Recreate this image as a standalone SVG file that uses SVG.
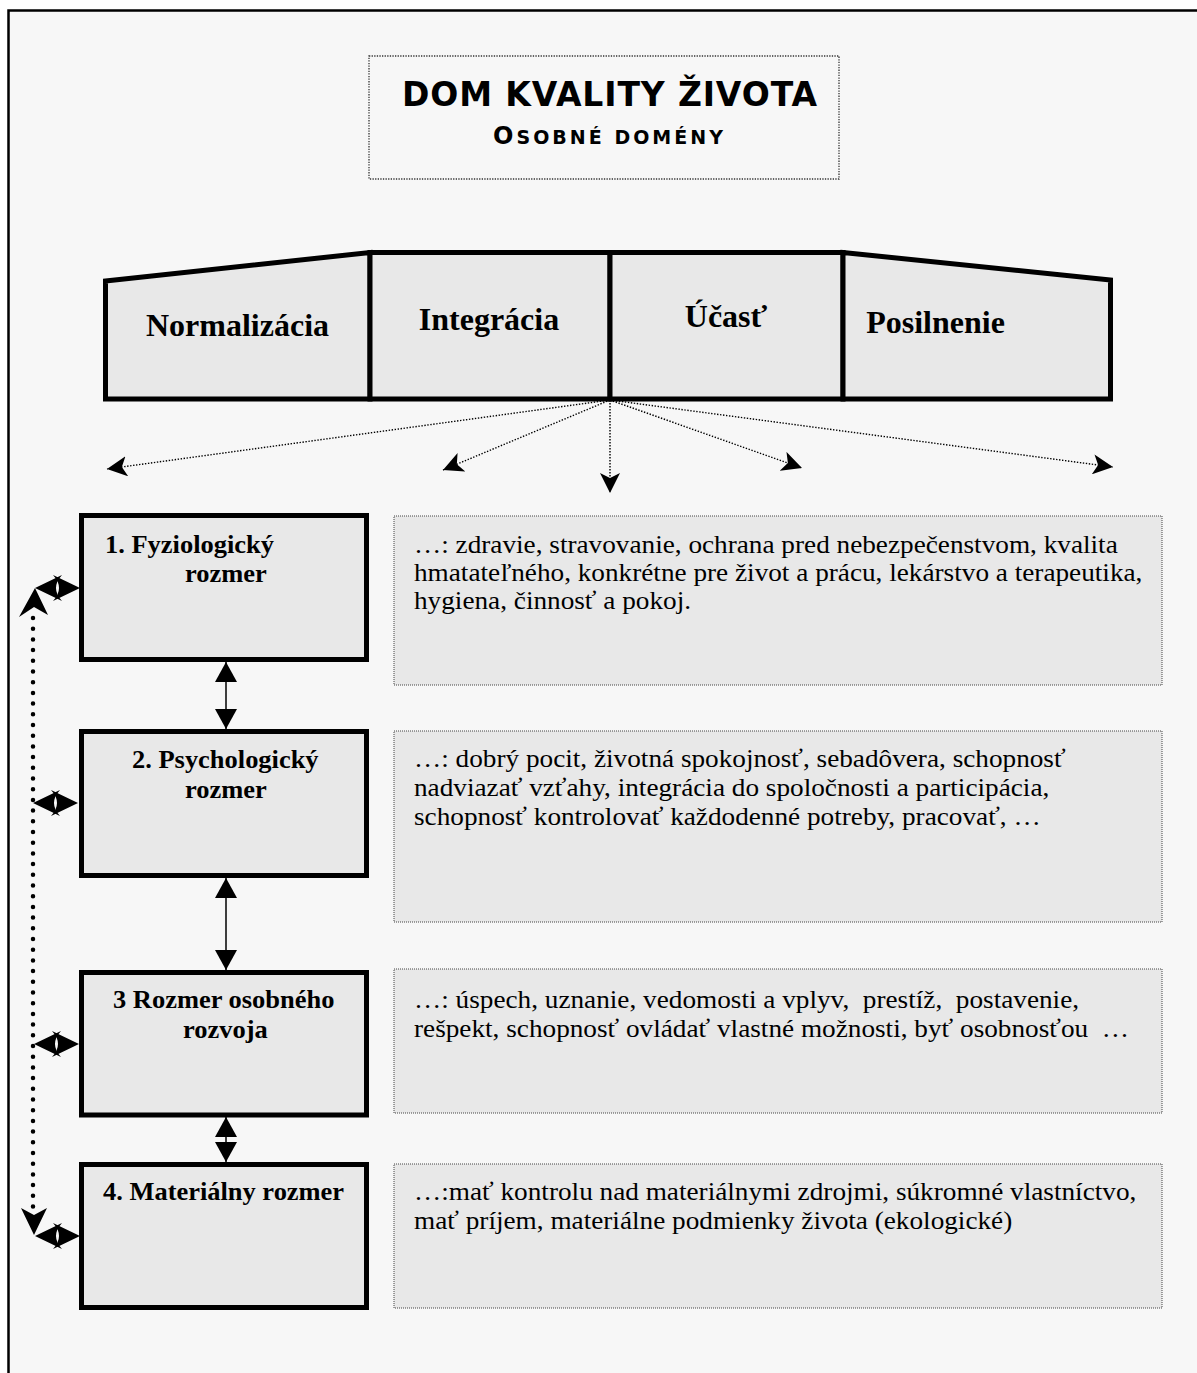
<svg xmlns="http://www.w3.org/2000/svg" xmlns:xlink="http://www.w3.org/1999/xlink" width="1197" height="1373" viewBox="0 0 1197 1373">
<style>
.frame{fill:#f7f7f7;stroke:#000;stroke-width:2.5}
.roof{fill:#e8e8e8;stroke:#000;stroke-width:5;stroke-linejoin:miter}
.box{fill:#e8e8e8;stroke:#000;stroke-width:5}
.tbox{fill:#e8e8e8;stroke:#444;stroke-width:1;stroke-dasharray:1 1}
.titlebox{fill:#f7f7f7;stroke:#333;stroke-width:1.3;stroke-dasharray:1.3 1.3}
.roofl{font-family:"Liberation Serif","Times New Roman",serif;font-weight:bold;font-size:32px;fill:#000;text-anchor:middle}
.boxl{font-family:"Liberation Serif","Times New Roman",serif;font-weight:bold;font-size:24.5px;fill:#000}
.body{font-family:"Liberation Serif","Times New Roman",serif;font-size:25px;fill:#000;white-space:pre}
.title{font-family:"DejaVu Sans","Liberation Sans",sans-serif;font-weight:bold;fill:#000;text-anchor:middle}
.dots{fill:none;stroke:#000;stroke-width:1.4;stroke-dasharray:1.4 1.6}
.solid{fill:none;stroke:#000;stroke-width:1.5}
.vdots{fill:none;stroke:#000;stroke-width:4.5;stroke-dasharray:0 10.7;stroke-linecap:round}
</style>
<defs>
<marker id="stealth" viewBox="0 0 20 20" refX="20" refY="10" markerWidth="20" markerHeight="20" markerUnits="userSpaceOnUse" orient="auto">
<path d="M0,0 L20,10 L0,20 L5,10 Z" fill="#000"/>
</marker>
<marker id="tri" viewBox="0 0 20 22" refX="20" refY="11" markerWidth="20" markerHeight="22" markerUnits="userSpaceOnUse" orient="auto-start-reverse">
<path d="M0,0 L20,11 L0,22 Z" fill="#000"/>
</marker>
<g id="dbl">
<path d="M35,0 L62,-13 Q50,0 62,13 Z" fill="#000"/>
<path d="M80,0 L53,-13 Q65,0 53,13 Z" fill="#000"/>
</g>
</defs>

<rect x="0" y="0" width="1197" height="1373" fill="#fff"/>
<path class="frame" d="M8.5,1380 V10.5 H1205 V1380 Z"/>

<g id="title">
<rect class="titlebox" x="369" y="56" width="470" height="123"/>
<text class="title" x="609.5" y="106" font-size="33" textLength="415">DOM KVALITY ŽIVOTA</text>
<text class="title" x="608" y="144" textLength="230"><tspan font-size="24">O</tspan><tspan font-size="19">SOBNÉ DOMÉNY</tspan></text>
</g>

<g id="roof-normalizacia">
<polygon class="roof" points="105.5,281 370,252.5 370,399 105.5,399"/>
<text class="roofl" x="237.5" y="336">Normalizácia</text>
</g>
<g id="roof-integracia">
<polygon class="roof" points="370,252.5 610,252.5 610,399 370,399"/>
<text class="roofl" x="489" y="330">Integrácia</text>
</g>
<g id="roof-ucast">
<polygon class="roof" points="610,252.5 843,252.5 843,399 610,399"/>
<text class="roofl" x="726" y="327">Účasť</text>
</g>
<g id="roof-posilnenie">
<polygon class="roof" points="843,252.5 1110.5,280 1110.5,399 843,399"/>
<text class="roofl" x="935.5" y="333">Posilnenie</text>
</g>

<g id="box1">
<rect class="box" x="81.5" y="515.5" width="285" height="144"/>
<g transform="translate(105,0) scale(1.08,1)"><text class="boxl" x="0" y="553">1. Fyziologický</text></g>
<g transform="translate(185,0) scale(1.08,1)"><text class="boxl" x="0" y="582">rozmer</text></g>
</g>
<g id="box2">
<rect class="box" x="81.5" y="731.5" width="285" height="144"/>
<g transform="translate(132,0) scale(1.08,1)"><text class="boxl" x="0" y="768">2. Psychologický</text></g>
<g transform="translate(185,0) scale(1.08,1)"><text class="boxl" x="0" y="798">rozmer</text></g>
</g>
<g id="box3">
<rect class="box" x="81.5" y="972.5" width="285" height="142.5"/>
<g transform="translate(113,0) scale(1.08,1)"><text class="boxl" x="0" y="1008">3 Rozmer osobného</text></g>
<g transform="translate(183,0) scale(1.08,1)"><text class="boxl" x="0" y="1038">rozvoja</text></g>
</g>
<g id="box4">
<rect class="box" x="81.5" y="1164.5" width="285" height="143"/>
<g transform="translate(103,0) scale(1.08,1)"><text class="boxl" x="0" y="1200">4. Materiálny rozmer</text></g>
</g>

<g id="text1">
<rect class="tbox" x="394" y="516" width="768" height="169"/>
<g transform="translate(414,0) scale(1.09,1)">
<text class="body" x="0" y="553">…: zdravie, stravovanie, ochrana pred nebezpečenstvom, kvalita</text>
<text class="body" x="0" y="581">hmatateľného, konkrétne pre život a prácu, lekárstvo a terapeutika,</text>
<text class="body" x="0" y="609">hygiena, činnosť a pokoj.</text>
</g>
</g>
<g id="text2">
<rect class="tbox" x="394" y="731" width="768" height="191"/>
<g transform="translate(414,0) scale(1.09,1)">
<text class="body" x="0" y="767">…: dobrý pocit, životná spokojnosť, sebadôvera, schopnosť</text>
<text class="body" x="0" y="796">nadviazať vzťahy, integrácia do spoločnosti a participácia,</text>
<text class="body" x="0" y="825">schopnosť kontrolovať každodenné potreby, pracovať, …</text>
</g>
</g>
<g id="text3">
<rect class="tbox" x="394" y="969" width="768" height="144"/>
<g transform="translate(414,0) scale(1.09,1)">
<text class="body" x="0" y="1008" xml:space="preserve">…: úspech, uznanie, vedomosti a vplyv,  prestíž,  postavenie,</text>
<text class="body" x="0" y="1037" xml:space="preserve">rešpekt, schopnosť ovládať vlastné možnosti, byť osobnosťou  …</text>
</g>
</g>
<g id="text4">
<rect class="tbox" x="394" y="1164" width="768" height="144"/>
<g transform="translate(414,0) scale(1.09,1)">
<text class="body" x="0" y="1200">…:mať kontrolu nad materiálnymi zdrojmi, súkromné vlastníctvo,</text>
<text class="body" x="0" y="1229">mať príjem, materiálne podmienky života (ekologické)</text>
</g>
</g>

<g id="connectors">
<path class="dots" d="M610,400 L107,469" marker-end="url(#stealth)"/>
<path class="dots" d="M610,400 L443,470" marker-end="url(#stealth)"/>
<path class="dots" d="M610,400 L610,493" marker-end="url(#stealth)"/>
<path class="dots" d="M610,400 L802,468" marker-end="url(#stealth)"/>
<path class="dots" d="M610,400 L1113,467" marker-end="url(#stealth)"/>

<path class="solid" d="M226,662 L226,729" marker-start="url(#tri)" marker-end="url(#tri)"/>
<path class="solid" d="M226,878 L226,970" marker-start="url(#tri)" marker-end="url(#tri)"/>
<path class="solid" d="M226,1117 L226,1162" marker-start="url(#tri)" marker-end="url(#tri)"/>

<path class="vdots" d="M33,618 L33,1209"/>
<path d="M35,588 L48,615 L34,607 L19,617 Z" fill="#000"/>
<path d="M34,1235 L21,1208 L34,1215 L47,1208 Z" fill="#000"/>

<use xlink:href="#dbl" x="0" y="588"/>
<use xlink:href="#dbl" x="-2" y="803"/>
<use xlink:href="#dbl" x="-1" y="1044"/>
<use xlink:href="#dbl" x="0" y="1236"/>
</g>
</svg>
